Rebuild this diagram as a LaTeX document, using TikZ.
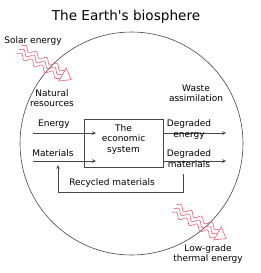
\documentclass[tikz,border=0pt]{standalone}
\usepackage{fontspec}
\setmainfont{DejaVu Sans}
\usetikzlibrary{arrows,positioning,calc,decorations.pathmorphing}
\definecolor{wavered}{RGB}{228,96,118}
\definecolor{linegrey}{RGB}{70,70,70}

\begin{document}
\begin{tikzpicture}[x=1pt, y=-1pt, >=stealth,
    every node/.style={font=\fontsize{9}{10.3}\selectfont, align=center, inner sep=0pt},
    flow/.style={->, linegrey, line width=0.7pt},
    wavy/.style={wavered, line width=0.6pt, decorate, decoration={snake, amplitude=2.6pt, segment length=12pt}}]
            \useasboundingbox (0,0) rectangle (260,273);
            % Title and biosphere
            \node (title) at (126,17) {\fontsize{13.6}{15}\selectfont The Earth\textquotesingle s biosphere};
            \node[draw=linegrey, line width=0.6pt, circle, minimum size=223pt] (earth) at (131.5,143.5) {};

            % Economic system
            \node[draw=linegrey, line width=0.7pt, minimum width=79pt, minimum height=48pt] (econ) at (123.5,143) {};
            \node (econtext) at (123.5,139.5) {The\\economic\\system};

            % Inputs
            \coordinate (ein) at (33,133);
            \coordinate (eout) at (96,133);
            \coordinate (min) at (33,161);
            \coordinate (mout) at (96,161);
            \draw[flow] (ein) -- (eout);
            \draw[flow] (min) -- (mout);
            \node (energy) at (54,124) {Energy};
            \node (materials) at (53,153) {Materials};
            \node (natres) at (52,98) {Natural\\resources};

            % Outputs
            \coordinate (degE) at (226,133);
            \coordinate (degM) at (226,161);
            \draw[flow] (econ.east |- ein) -- (degE);
            \draw[flow] (econ.east |- min) -- (degM);
            \node (degtext1) at (189,129.5) {Degraded\\energy};
            \node (degtext2) at (189,158.5) {Degraded\\materials};
            \node (waste) at (196,93) {Waste\\assimilation};

            % Recycling loop
            \coordinate (rstart) at (183,174);
            \coordinate (rend) at (58,165);
            \draw[flow] (rstart) -- ++(0,18) -| (rend);
            \node (recycled) at (112,183) {Recycled materials};

            % Solar energy in
            \node (solar) at (33,41) {Solar energy};
            \begin{scope}[shift={(62.5,74.6)}, rotate=-30]
                \foreach \v in {-4.5,0,4.5}
                    \draw[wavy] (-50,\v) -- (0,\v);
                \draw[wavered, line width=0.6pt] (0,-7.5) -- (10,0) -- (0,7.5) -- cycle;
            \end{scope}

            % Heat out
            \begin{scope}[shift={(217.5,233.5)}, rotate=-30]
                \foreach \v in {-4.5,0,4.5}
                    \draw[wavy] (-50,\v) -- (0,\v);
                \draw[wavered, line width=0.6pt] (0,-7.5) -- (10,0) -- (0,7.5) -- cycle;
            \end{scope}
            \node (lowgrade) at (208,254) {Low-grade\\thermal energy};
\end{tikzpicture}
\end{document}
